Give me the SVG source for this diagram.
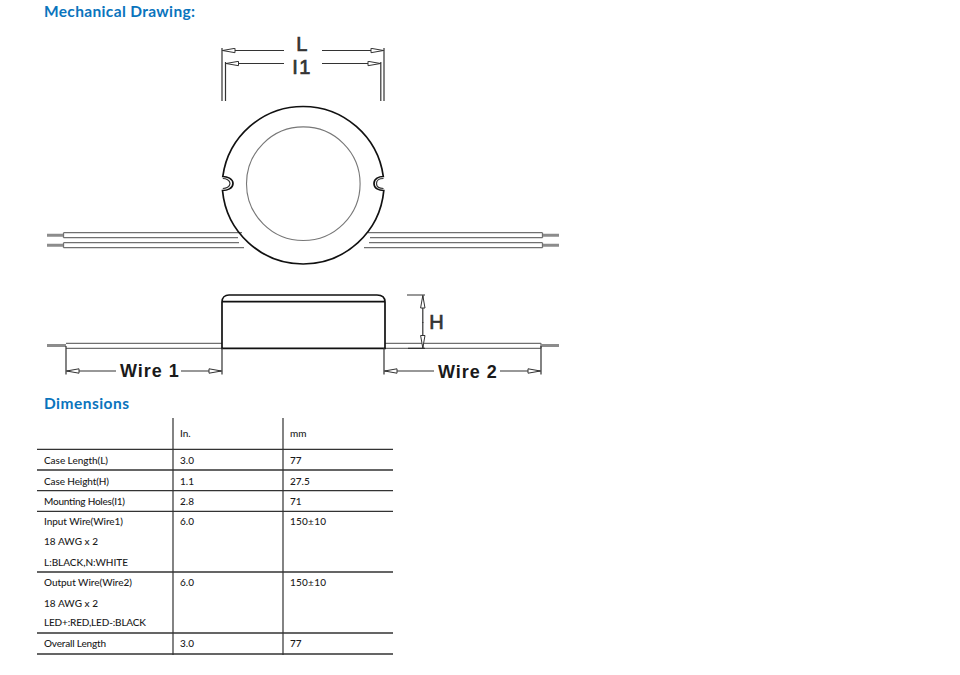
<svg xmlns="http://www.w3.org/2000/svg" width="960" height="675" viewBox="0 0 960 675">
<defs>
<marker id="dart" viewBox="0 0 14 6" refX="0.5" refY="3" markerWidth="14" markerHeight="6" markerUnits="userSpaceOnUse" orient="auto"><path d="M0.5 3L13 0.8V5.2Z" fill="#fff" stroke="#333" stroke-width="1"/></marker>
</defs>
<style>
.h{font:bold 15.500px "Lato","Liberation Sans",sans-serif;fill:#0a74bd}
.t{font:500 10px "Lato","Liberation Sans",sans-serif;fill:#1c1c1c}
.d{font:bold 18px "Liberation Sans",sans-serif;fill:#1a1a1a;letter-spacing:1px}
.b{font:20px "Liberation Sans",sans-serif;fill:#333;stroke:#333;stroke-width:.7;text-anchor:middle}
.w{fill:none;stroke:#707070;stroke-width:1.3}
.s{fill:none;stroke:#8c8c8c;stroke-width:3}
.k{fill:none;stroke:#111;stroke-width:1.7}
.m{fill:none;stroke:#333;stroke-width:1.2}
.r{stroke:#333;stroke-width:1.2;fill:none}
.a{marker-start:url(#dart)}
</style>
<rect width="960" height="675" fill="#fff"/>
<text class="h" x="44" y="16.500" textLength="151">Mechanical Drawing:</text>
<g id="top-view-wires">
<path class="w" d="M63.500 232.700H242M63.500 237.700H238M63.500 242.700H239M63.500 247.700H244M63.500 232.700V237.700M63.500 242.700V247.700"/>
<path class="s" d="M47 235.200H63M47 245.200H63"/>
<path class="w" d="M368 232.700H542.500M370 237.700H542.500M369 242.700H542.500M364 247.700H542.500M542.500 232.700V237.700M542.500 242.700V247.700"/>
<path class="s" d="M543 235.200H559M543 245.200H559"/>
</g>
<g id="top-view">
<path class="k" fill="#fff" d="M222.500 190.500A81 81 0 0 0 383.800 190.500C379 190.500 374 188.500 374 183.500C374 178.500 379 176.500 383.300 176.500A81 81 0 0 0 222.800 176.500C227 176.500 233 178.500 233 183.500C233 188.500 227 190.500 222.500 190.500Z"/>
<path class="m" d="M222.800 178.500C226 178.500 230 180 230 183.500C230 187 226 188.500 222.800 188.500M383.500 178.500C380 178.500 376.500 180 376.500 183.500C376.500 187 380 188.500 383.500 188.500"/>
<circle cx="303.300" cy="183.700" r="56.800" fill="none" stroke="#777" stroke-width="1.1"/>
</g>
<g id="dim-L-I1">
<path class="r" d="M222 48V101M225.500 62V101M384 48V101M380.800 62V101"/>
<path class="m a" d="M222.500 50.500H284"/>
<path class="m a" d="M383.500 50.500H322"/>
<path class="m a" d="M226 63.500H284"/>
<path class="m a" d="M380.500 63.500H322"/>
<text class="b" x="301.800" y="51.200">L</text>
<text class="b" x="302" y="73.800" letter-spacing="1.500">I1</text>
</g>
<g id="side-view">
<path class="w" d="M66 343.300H222M66 348.300H222M385 343.300H541M385 348.300H541M541 343.300V348.300"/>
<path class="s" d="M47 345.500H66M541 345.500H559"/>
<path class="k" fill="#fff" d="M222 348.300V302C222 297.500 225 295 229 295H377C382 295 385 297.500 385 302V348.300Z"/>
<path class="k" d="M222 301.700H385"/>
</g>
<g id="dim-wires">
<path class="r" d="M66 346V374.500M222 348V374.500M384 348V374.500M541 346V374.500"/>
<path class="m a" d="M66.500 371H116"/>
<path class="m a" d="M221.500 371H181"/>
<path class="m a" d="M384.500 371H434"/>
<path class="m a" d="M540.500 371H500"/>
<text class="d" x="120" y="377">Wire 1</text>
<text class="d" x="438" y="377.500">Wire 2</text>
</g>
<g id="dim-H">
<path class="r" d="M407 295H425M408 348.300H425"/>
<path class="m a" d="M422.800 295.500V323"/>
<path class="m a" d="M422.800 348V322"/>
<text class="b" x="436.500" y="329">H</text>
</g>
<text class="h" x="44" y="408.500" textLength="85">Dimensions</text>
<g id="table">
<path d="M173 418V655M283 418V655" stroke="#333" stroke-width="1.2" fill="none"/>
<path d="M37 449.300H393M37 470H393M37 490.700H393M37 511.300H393M37 572H393M37 633H393M37 654H393" stroke="#333" stroke-width="1.3" fill="none"/>
<g class="t">
<text x="180" y="437">In.</text><text x="290" y="437">mm</text>
<text x="44" y="464" textLength="64">Case Length(L)</text><text x="180" y="464">3.0</text><text x="290" y="464">77</text>
<text x="44" y="484.500" textLength="65">Case Height(H)</text><text x="180" y="484.500">1.1</text><text x="290" y="484.500">27.5</text>
<text x="44" y="505" textLength="81">Mounting Holes(I1)</text><text x="180" y="505">2.8</text><text x="290" y="505">71</text>
<text x="44" y="525" textLength="79">Input Wire(Wire1)</text><text x="180" y="525">6.0</text><text x="290" y="525" textLength="36">150±10</text>
<text x="44" y="545" textLength="54">18 AWG x 2</text>
<text x="44" y="565.500" textLength="84">L:BLACK,N:WHITE</text>
<text x="44" y="586" textLength="88">Output Wire(Wire2)</text><text x="180" y="586">6.0</text><text x="290" y="586" textLength="36">150±10</text>
<text x="44" y="607" textLength="54">18 AWG x 2</text>
<text x="44" y="626" textLength="102">LED+:RED,LED-:BLACK</text>
<text x="44" y="647" textLength="62">Overall Length</text><text x="180" y="647">3.0</text><text x="290" y="647">77</text>
</g>
</g>
</svg>
